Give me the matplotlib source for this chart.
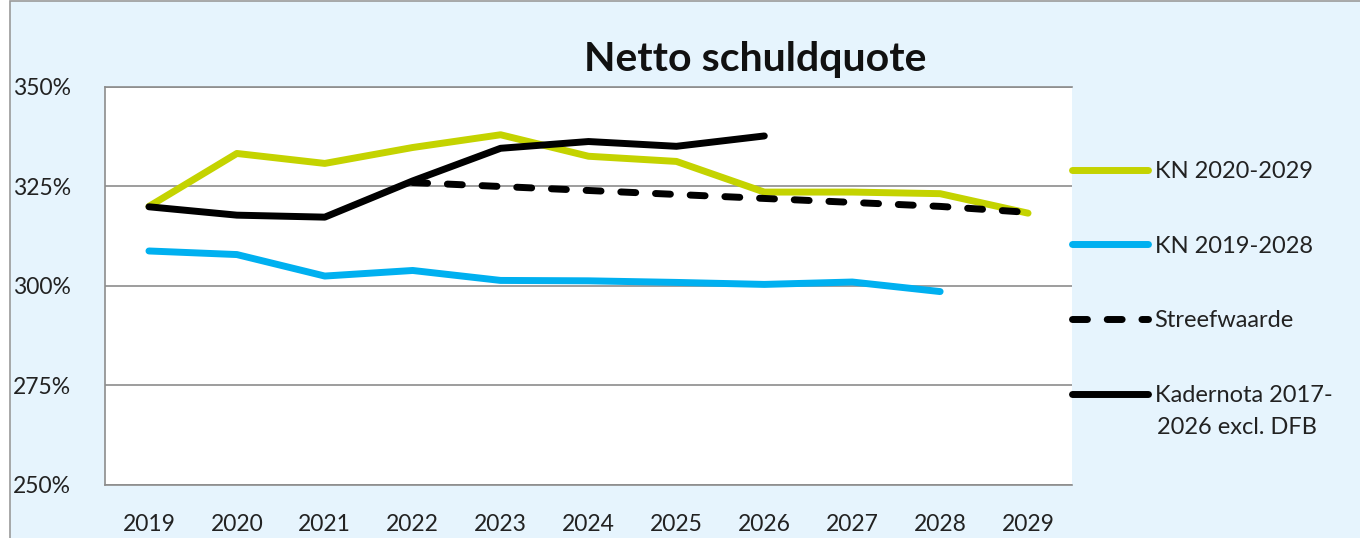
import numpy as np
import matplotlib
matplotlib.use("Agg")
import matplotlib.pyplot as plt
from matplotlib.patches import Rectangle

plt.rcParams['font.family'] = ['Lato', 'DejaVu Sans']

years = ["2019", "2020", "2021", "2022", "2023", "2024", "2025", "2026", "2027", "2028", "2029"]
nan = np.nan

kn_2020_2029 = [320.0, 333.3, 330.8, 334.8, 338.0, 332.6, 331.3, 323.6, 323.6, 323.2, 318.3]
kn_2019_2028 = [308.8, 307.9, 302.5, 303.9, 301.4, 301.3, 300.9, 300.4, 301.0, 298.6, nan]
streefwaarde = [nan, nan, nan, 326.0, 325.0, 324.0, 323.0, 322.0, 321.0, 320.0, 318.5]
kadernota = [319.9, 317.8, 317.3, 326.4, 334.6, 336.3, 335.1, 337.7, nan, nan, nan]

y_ticks = [250, 275, 300, 325, 350]
y_ticklabels = ["250%", "275%", "300%", "325%", "350%"]

W, H = 1360, 538
fig = plt.figure(figsize=(W / 100, H / 100), dpi=100)
fig.patch.set_facecolor("white")

# chart area background with thin border (Excel style)
bg = Rectangle((10 / W, -0.05), 1.2, 1.05 - 1 / H, transform=fig.transFigure,
               facecolor="#E6F4FD", edgecolor="#9a9a9a", linewidth=1.2, zorder=-5)
fig.patches.append(bg)

ax = fig.add_axes([105 / W, 1 - 485 / H, (1072 - 105) / W, 398 / H])
ax.set_facecolor("white")

x = np.arange(len(years))
lw = 5
ax.plot(x, kn_2020_2029, color="#C4D300", lw=lw, solid_capstyle="round",
        solid_joinstyle="round", label="KN 2020-2029", zorder=3)
ax.plot(x, kn_2019_2028, color="#00B0F0", lw=lw, solid_capstyle="round",
        solid_joinstyle="round", label="KN 2019-2028", zorder=3)
ax.plot(x, streefwaarde, color="black", lw=lw, linestyle=(0, (2.15, 2.85)),
        dash_capstyle="round", label="Streefwaarde", zorder=4)
ax.plot(x, kadernota, color="black", lw=lw, solid_capstyle="round",
        solid_joinstyle="round", label="Kadernota 2017-", zorder=3)

ax.set_xlim(-0.5, len(years) - 0.5)
ax.set_ylim(250, 350)
ax.set_xticks(x)
ax.set_xticklabels(years)
ax.set_yticks(y_ticks)
ax.set_yticklabels(y_ticklabels)
ax.tick_params(axis="both", length=0, labelsize=16.5, colors="#222222")
ax.tick_params(axis="x", pad=21)
for lab in ax.get_yticklabels():
    lab.set_horizontalalignment("left")
ax.yaxis.set_tick_params(pad=66)

ax.grid(axis="y", color="#8c8c8c", linewidth=1.2, zorder=1)
ax.set_axisbelow(True)
ax.spines["right"].set_visible(False)
for side in ["left", "bottom", "top"]:
    ax.spines[side].set_color("#8c8c8c")
    ax.spines[side].set_linewidth(1.2)

fig.text(755 / W, 1 - 60 / H, "Netto schuldquote", ha="center", va="center",
         fontsize=29.5, fontweight="bold", color="#111111")

leg = fig.legend(loc="upper left", bbox_to_anchor=(1072 / W, 1 - 161 / H),
                 frameon=False, fontsize=17, handlelength=3.2, handletextpad=0.3,
                 labelspacing=2.27, borderpad=0, borderaxespad=0)
for t in leg.get_texts():
    t.set_color("#222222")
fig.text(1157 / W, 1 - 428 / H, "2026 excl. DFB", ha="left", va="center",
         fontsize=17, color="#222222")

fig.savefig("out.png", dpi=100, facecolor=fig.get_facecolor())
